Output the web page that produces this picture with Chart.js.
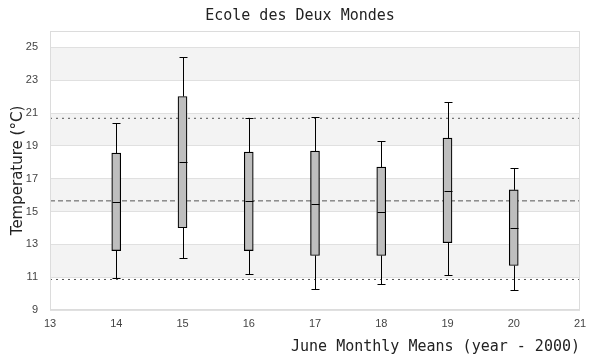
<!DOCTYPE html>
<html>
<head>
<meta charset="utf-8">
<title>Ecole des Deux Mondes</title>
<script src="https://cdn.jsdelivr.net/npm/chart.js@4/dist/chart.umd.min.js"></script>
<style>
  html, body { margin: 0; padding: 0; background: #fff; }
  #wrap { width: 600px; height: 360px; }
</style>
</head>
<body>
<div id="wrap"><canvas id="chart"></canvas></div>
<script>
// June monthly means, one box per year (year - 2000)
const YEARS = [14, 15, 16, 17, 18, 19, 20];
const WHISKER_LOW = [10.92, 12.19, 11.18, 10.25, 10.56, 11.16, 10.19];
const Q1 = [12.62, 14.01, 12.62, 12.32, 12.32, 13.10, 11.71];
const MEDIAN = [15.59, 18.01, 15.65, 15.47, 14.98, 16.25, 14.01];
const Q3 = [18.56, 22.01, 18.62, 18.68, 17.71, 19.47, 16.32];
const WHISKER_HIGH = [20.38, 24.39, 20.68, 20.74, 19.28, 21.65, 17.65];

// Reference levels across all years
const OVERALL_MEAN = 15.65;
const UPPER_LIMIT = 20.68;
const LOWER_LIMIT = 10.86;

const Y_TICKS = [9, 11, 13, 15, 17, 19, 21, 23, 25];
const SHADED_BANDS = [[11, 13], [15, 17], [19, 21], [23, 25]];

const X_MIN = 13, X_MAX = 21;
const Y_MIN = 9, Y_MAX = 26;

// ---------- plugins ---------------------------------------------------------

// Alternating grey bands behind the grid, and a light frame round the plot.
const bandsPlugin = {
  id: 'bands',
  beforeDraw(chart) {
    const { ctx, chartArea: a, scales: { y } } = chart;
    ctx.save();
    ctx.fillStyle = '#f3f3f3';
    for (const [lo, hi] of SHADED_BANDS) {
      const top = y.getPixelForValue(hi);
      const bot = y.getPixelForValue(lo);
      ctx.fillRect(a.left, top, a.right - a.left, bot - top);
    }
    ctx.restore();
  },
  afterDraw(chart) {
    const { ctx, chartArea: a } = chart;
    ctx.save();
    ctx.strokeStyle = '#dcdcdc';
    ctx.lineWidth = 1;
    ctx.strokeRect(Math.round(a.left) + 0.5, Math.round(a.top) + 0.5,
      Math.round(a.right - a.left) - 1, Math.round(a.bottom - a.top) - 1);
    ctx.restore();
  },
};

// Whiskers, caps and median lines drawn on the scales.
const whiskerPlugin = {
  id: 'whiskers',
  afterDatasetsDraw(chart) {
    const { ctx, scales: { x, y } } = chart;
    const half = 4;
    const crisp = (v) => Math.round(v) + 0.5;
    ctx.save();
    ctx.strokeStyle = '#000';
    ctx.lineWidth = 1;
    YEARS.forEach((yr, i) => {
      const px = crisp(x.getPixelForValue(yr));
      const lo = crisp(y.getPixelForValue(WHISKER_LOW[i]));
      const hi = crisp(y.getPixelForValue(WHISKER_HIGH[i]));
      const b1 = y.getPixelForValue(Q1[i]);
      const b3 = y.getPixelForValue(Q3[i]);
      const md = crisp(y.getPixelForValue(MEDIAN[i]));
      ctx.beginPath();
      ctx.moveTo(px, hi); ctx.lineTo(px, b3);
      ctx.moveTo(px, b1); ctx.lineTo(px, lo);
      ctx.moveTo(px - half, hi); ctx.lineTo(px + half, hi);
      ctx.moveTo(px - half, lo); ctx.lineTo(px + half, lo);
      ctx.moveTo(px - half, md); ctx.lineTo(px + half, md);
      ctx.stroke();
    });
    ctx.restore();
  },
};

function flatLine(value, dash, color) {
  return {
    type: 'line',
    data: [{ x: X_MIN, y: value }, { x: X_MAX, y: value }],
    borderColor: color,
    borderWidth: 1,
    borderDash: dash,
    pointRadius: 0,
    fill: false,
    order: 2,
  };
}

// ---------- chart -----------------------------------------------------------

new Chart(document.getElementById('chart'), {
  type: 'bar',
  data: {
    datasets: [
      {
        type: 'bar',
        data: YEARS.map((yr, i) => ({ x: yr, y: [Q1[i], Q3[i]] })),
        backgroundColor: '#bebebe',
        borderColor: '#000',
        borderWidth: 1.2,
        borderSkipped: false,
        barThickness: 9,
        order: 1,
      },
      flatLine(OVERALL_MEAN, [5, 3], '#555'),
      flatLine(UPPER_LIMIT, [2, 4], '#555'),
      flatLine(LOWER_LIMIT, [2, 4], '#555'),
    ],
  },
  options: {
    responsive: true,
    maintainAspectRatio: false,
    animation: false,
    layout: { padding: { left: 20, right: 20, top: 0, bottom: 0 } },
    plugins: {
      legend: { display: false },
      tooltip: { enabled: false },
      title: {
        display: true,
        text: 'Ecole des Deux Mondes',
        color: '#222',
        font: { family: "'DejaVu Sans Mono', monospace", size: 15, weight: 'normal', lineHeight: 1.2 },
        padding: { top: 7, bottom: 6 },
      },
    },
    scales: {
      x: {
        type: 'linear',
        min: X_MIN,
        max: X_MAX,
        offset: false,
        grid: { display: false, drawTicks: false },
        border: { display: false },
        ticks: {
          stepSize: 1,
          padding: 7,
          color: '#444',
          font: { family: "'Liberation Sans', Arial, sans-serif", size: 11 },
        },
        title: {
          display: true,
          text: 'June Monthly Means (year - 2000)',
          align: 'end',
          color: '#222',
          font: { family: "'DejaVu Sans Mono', monospace", size: 15, lineHeight: 1.2 },
          padding: { top: 0, bottom: 4 },
        },
        afterFit(scale) { scale.height = 50; },
      },
      y: {
        type: 'linear',
        min: Y_MIN,
        max: Y_MAX,
        grid: { color: '#e0e0e0', lineWidth: 1, drawTicks: false },
        border: { display: false },
        afterBuildTicks(scale) { scale.ticks = Y_TICKS.map((v) => ({ value: v })); },
        ticks: {
          padding: 12,
          color: '#444',
          font: { family: "'Liberation Sans', Arial, sans-serif", size: 11 },
        },
        title: {
          display: true,
          text: 'Temperature (°C)',
          color: '#222',
          font: { family: "'DejaVu Sans', sans-serif", size: 15, lineHeight: 1.2 },
          padding: { top: -11, bottom: 0 },
        },
        afterFit(scale) { scale.width = 30; },
      },
    },
  },
  plugins: [bandsPlugin, whiskerPlugin],
});
</script>
</body>
</html>
